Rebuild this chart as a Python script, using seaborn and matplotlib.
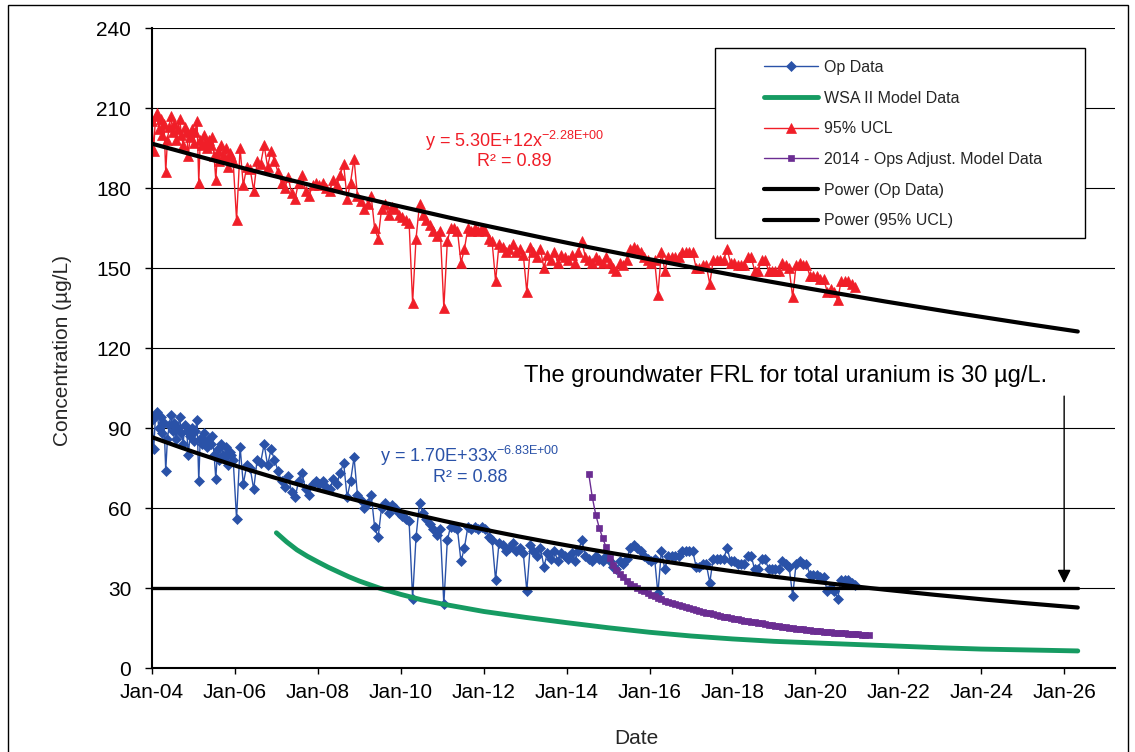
import numpy as np
import pandas as pd
import matplotlib
matplotlib.use("Agg")
import matplotlib.pyplot as plt
from matplotlib.patches import Rectangle
import seaborn as sns

# Op Data (ug/L): twice a month in 2004-2005, then monthly to Dec-20
op_early = [
    93, 82, 95, 96, 90, 94, 88, 92, 74, 86, 91, 95, 89, 92, 86, 90, 94, 88, 84, 91, 89, 80, 87, 90,
    85, 89, 93, 70, 86, 84, 88, 85, 83, 86, 84, 87, 80, 71, 82, 78, 84, 80, 79, 83, 76, 81, 80, 78,
]
op_monthly = [
    56, 83, 69, 76, 75, 67, 78, 77, 84, 76, 82, 78,
    74, 70, 68, 72, 66, 64, 70, 73, 67, 65, 69, 70,
    69, 70, 68, 67, 71, 69, 73, 77, 64, 70, 79, 65,
    63, 60, 62, 65, 53, 49, 60, 62, 58, 61, 60, 58,
    57, 56, 55, 26, 49, 62, 58, 56, 54, 52, 50, 52,
    24, 48, 53, 53, 52, 40, 45, 53, 52, 53, 52, 53,
    52, 49, 48, 33, 47, 46, 44, 45, 47, 44, 45, 43,
    29, 46, 44, 42, 45, 38, 43, 41, 44, 40, 43, 42,
    41, 43, 40, 44, 48, 42, 41, 40, 42, 41, 40, 42,
    40, 38, 37, 40, 39, 41, 45, 46, 45, 44, 42, 41,
    40, 41, 28, 44, 37, 42, 42, 42, 42, 44, 44, 44,
    44, 38, 38, 39, 39, 32, 41, 41, 41, 41, 45, 40,
    40, 39, 39, 39, 42, 42, 37, 37, 41, 41, 37, 37,
    37, 37, 40, 39, 38, 27, 39, 40, 39, 39, 35, 35,
    35, 34, 34, 29, 30, 29, 26, 33, 33, 33, 32, 31,
]

# 95% UCL, same sampling dates
ucl_early = [
    205, 194, 207, 208, 202, 206, 200, 204, 186, 198, 203, 207, 201, 204, 198, 202, 206, 200, 196, 203, 201, 192, 199, 202,
    197, 201, 205, 182, 198, 196, 200, 197, 195, 198, 196, 199, 192, 183, 194, 190, 196, 192, 191, 195, 188, 193, 192, 190,
]
ucl_monthly = [
    168, 195, 181, 188, 187, 179, 190, 189, 196, 188, 194, 190,
    186, 182, 180, 184, 178, 176, 182, 185, 179, 177, 181, 182,
    181, 182, 180, 179, 183, 181, 185, 189, 176, 182, 191, 177,
    175, 172, 174, 177, 165, 161, 172, 174, 170, 173, 172, 170,
    169, 168, 167, 137, 161, 174, 170, 168, 166, 164, 162, 164,
    135, 160, 165, 165, 164, 152, 157, 165, 164, 165, 164, 165,
    164, 161, 160, 145, 159, 158, 156, 157, 159, 156, 157, 155,
    141, 158, 156, 154, 157, 150, 155, 153, 156, 152, 155, 154,
    153, 155, 152, 156, 160, 154, 153, 152, 154, 153, 152, 154,
    152, 150, 149, 152, 151, 153, 157, 158, 157, 156, 154, 153,
    152, 153, 140, 156, 149, 154, 154, 154, 154, 156, 156, 156,
    156, 150, 150, 151, 151, 144, 153, 153, 153, 153, 157, 152,
    152, 151, 151, 151, 154, 154, 149, 149, 153, 153, 149, 149,
    149, 149, 152, 151, 150, 139, 151, 152, 151, 151, 147, 147,
    147, 146, 146, 141, 142, 141, 138, 145, 145, 145, 144, 143,
]

# WSA II model curve
wsa_dates = [
    "2007-01-01", "2007-04-01", "2007-07-01", "2007-10-01", "2008-01-01", "2008-04-01",
    "2008-07-01", "2008-10-01", "2009-01-01", "2009-07-01", "2010-01-01", "2010-07-01",
    "2011-01-01", "2012-01-01", "2013-01-01", "2014-01-01", "2015-01-01", "2016-01-01",
    "2017-01-01", "2018-01-01", "2019-01-01", "2020-01-01", "2021-01-01", "2022-01-01",
    "2023-01-01", "2024-01-01", "2025-01-01", "2026-01-01", "2026-05-01",
]
wsa_vals = [
    50.7, 47.3, 44.3, 41.9, 39.8, 37.8,
    36.0, 34.2, 32.6, 29.9, 27.6, 25.6,
    24.0, 21.2, 19.0, 17.0, 15.1, 13.4,
    12.0, 10.9, 10.0, 9.4, 8.8, 8.2,
    7.6, 7.1, 6.8, 6.5, 6.4,
]

# 2014 - Ops Adjust. model, monthly from Jul-14
ops2014_start = "2014-07-01"
ops2014_vals = [
    72.7, 64.0, 57.4, 52.6, 48.6, 45.3,
    41.1, 38.6, 36.7, 35.2, 34.0, 32.6, 31.4, 30.6, 29.9, 29.3, 28.7, 28.1,
    27.5, 26.9, 26.3, 25.8, 25.3, 24.8, 24.4, 24.0, 23.6, 23.2, 22.9, 22.5,
    22.1, 21.8, 21.5, 21.1, 20.8, 20.5, 20.2, 19.9, 19.6, 19.3, 19.1, 18.8,
    18.5, 18.3, 18.0, 17.8, 17.5, 17.3, 17.1, 16.9, 16.7, 16.5, 16.3, 16.1,
    15.9, 15.7, 15.5, 15.3, 15.1, 15.0, 14.8, 14.6, 14.5, 14.3, 14.2, 14.0,
    13.9, 13.8, 13.6, 13.5, 13.4, 13.3, 13.2, 13.1, 13.0, 12.9, 12.8, 12.7,
    12.6, 12.5, 12.5, 12.4,
]

frl = 30
trend_end = "2026-05-01"

BLUE = "#2A52A8"
RED = "#F01E28"
GREEN = "#169B62"
PURPLE = "#6B2D92"

sns.set_theme(style="white")
plt.rcParams["font.family"] = ["Liberation Sans", "DejaVu Sans"]
plt.rcParams["mathtext.fontset"] = "custom"
plt.rcParams["mathtext.rm"] = "Liberation Sans"

EXCEL_ZERO = pd.Timestamp("1899-12-30")


def power_trend(dates, vals):
    # like excel's power trendline: least squares on log-log, x = date serial
    x = np.asarray((dates - EXCEL_ZERO).days, dtype=float)
    b, ln_a = np.polyfit(np.log(x), np.log(vals), 1)
    grid = pd.date_range(dates[0], trend_end, periods=150)
    gx = np.asarray((grid - EXCEL_ZERO).days, dtype=float)
    return grid, np.exp(ln_a) * gx ** b


early_dates = pd.date_range("2004-01-01", periods=len(op_early) // 2, freq="MS")
early_dates = early_dates.append(early_dates + pd.Timedelta(days=15)).sort_values()
late_dates = pd.date_range("2006-01-01", periods=len(op_monthly), freq="MS") + pd.Timedelta(days=14)
op_dates = early_dates.append(late_dates)
op_data = np.array(op_early + op_monthly, dtype=float)
ucl_data = np.array(ucl_early + ucl_monthly, dtype=float)

ops_dates = pd.date_range(ops2014_start, periods=len(ops2014_vals), freq="MS") + pd.Timedelta(days=14)
wsa_dt = pd.to_datetime(wsa_dates)

W, H = 1135, 752
fig = plt.figure(figsize=(W / 100, H / 100), dpi=100)
ax = fig.add_axes([152 / W, 84 / H, 963 / W, 640 / H])

sns.lineplot(x=op_dates, y=op_data, ax=ax, color=BLUE, lw=1, marker="D", markersize=5.5,
             markeredgecolor=BLUE, markeredgewidth=0.5, label="Op Data", estimator=None)
sns.lineplot(x=wsa_dt, y=wsa_vals, ax=ax, color=GREEN, lw=3.5, label="WSA II Model Data",
             estimator=None)
sns.lineplot(x=op_dates, y=ucl_data, ax=ax, color=RED, lw=1, marker="^", markersize=6.5,
             markeredgecolor=RED, markeredgewidth=0.5, label="95% UCL", estimator=None)
sns.lineplot(x=ops_dates, y=ops2014_vals, ax=ax, color=PURPLE, lw=1, marker="s", markersize=4.5,
             markeredgecolor=PURPLE, markeredgewidth=0.5, label="2014 - Ops Adjust. Model Data",
             estimator=None)

tx, ty = power_trend(op_dates, op_data)
sns.lineplot(x=tx, y=ty, ax=ax, color="black", lw=3, label="Power (Op Data)", estimator=None)
tx, ty = power_trend(op_dates, ucl_data)
sns.lineplot(x=tx, y=ty, ax=ax, color="black", lw=3, label="Power (95% UCL)", estimator=None)

ax.plot([pd.Timestamp("2004-01-01"), pd.Timestamp(trend_end)], [frl, frl],
        color="black", lw=2.4, zorder=4)

ax.set_xlim(pd.Timestamp("2004-01-01"), pd.Timestamp("2027-03-25"))
ax.set_ylim(0, 240)
ax.set_yticks(range(0, 241, 30))
ax.xaxis.set_major_locator(matplotlib.dates.YearLocator(2))
ax.xaxis.set_major_formatter(matplotlib.dates.DateFormatter("%b-%y"))
ax.set_xlabel("")
ax.set_ylabel("")

ax.yaxis.grid(True, color="black", lw=0.8)
ax.xaxis.grid(False)
ax.set_axisbelow(True)
for side in ["top", "right"]:
    ax.spines[side].set_visible(False)
for side in ["left", "bottom"]:
    ax.spines[side].set_color("black")
    ax.spines[side].set_linewidth(1.5)
ax.tick_params(axis="y", left=True, direction="out", length=5, width=1, pad=10,
               labelsize=15, colors="black")
ax.tick_params(axis="x", bottom=True, direction="out", length=4, width=1, pad=7,
               labelsize=15, colors="black")

# trendline equations
ax.text(pd.Timestamp("2012-10-01"), 197.5, "y = 5.30E+12x$^{\\mathregular{-2.28E{+}00}}$",
        color=RED, fontsize=13, ha="center", va="center")
ax.text(pd.Timestamp("2012-10-01"), 190, "R² = 0.89", color=RED, fontsize=13,
        ha="center", va="center")
ax.text(pd.Timestamp("2011-09-01"), 79.5, "y = 1.70E+33x$^{\\mathregular{-6.83E{+}00}}$",
        color=BLUE, fontsize=13, ha="center", va="center")
ax.text(pd.Timestamp("2011-09-01"), 71.5, "R² = 0.88", color=BLUE, fontsize=13,
        ha="center", va="center")

ax.text(pd.Timestamp("2025-08-01"), 109.5, "The groundwater FRL for total uranium is 30 µg/L.",
        fontsize=17, ha="right", va="center", color="black")
ax.annotate("", xy=(pd.Timestamp("2026-01-01"), frl + 0.8),
            xytext=(pd.Timestamp("2026-01-01"), 103),
            arrowprops=dict(arrowstyle="-|>", color="black", lw=1, mutation_scale=20))

fig.text(62 / W, 1 - 350 / H, "Concentration (µg/L)", rotation=90, ha="center", va="center",
         fontsize=15)
fig.text(636 / W, 1 - 738 / H, "Date", ha="center", va="center", fontsize=15)

# legend: white box on top of the plot area
if ax.get_legend() is not None:
    ax.get_legend().remove()
handles, labels = ax.get_legend_handles_labels()
lookup = dict(zip(labels, handles))
order = ["Op Data", "WSA II Model Data", "95% UCL", "2014 - Ops Adjust. Model Data",
         "Power (Op Data)", "Power (95% UCL)"]
fig.patches.append(Rectangle((715 / W, 1 - 238 / H), 370 / W, 190 / H, transform=fig.transFigure,
                             facecolor="white", edgecolor="black", lw=1, zorder=2))
fig.legend([lookup[k] for k in order], order, loc="upper left",
           bbox_to_anchor=(756 / W, 1 - 52 / H), bbox_transform=fig.transFigure,
           frameon=False, borderpad=0, fontsize=11.5, handlelength=3.4, handletextpad=0.35,
           labelspacing=0.98)

# outer chart border
fig.patches.append(Rectangle((8 / W, -0.01), 1120 / W, 1.01 - 5 / H, transform=fig.transFigure,
                             fill=False, edgecolor="black", lw=1, zorder=1))

fig.savefig("out.png", dpi=100)
